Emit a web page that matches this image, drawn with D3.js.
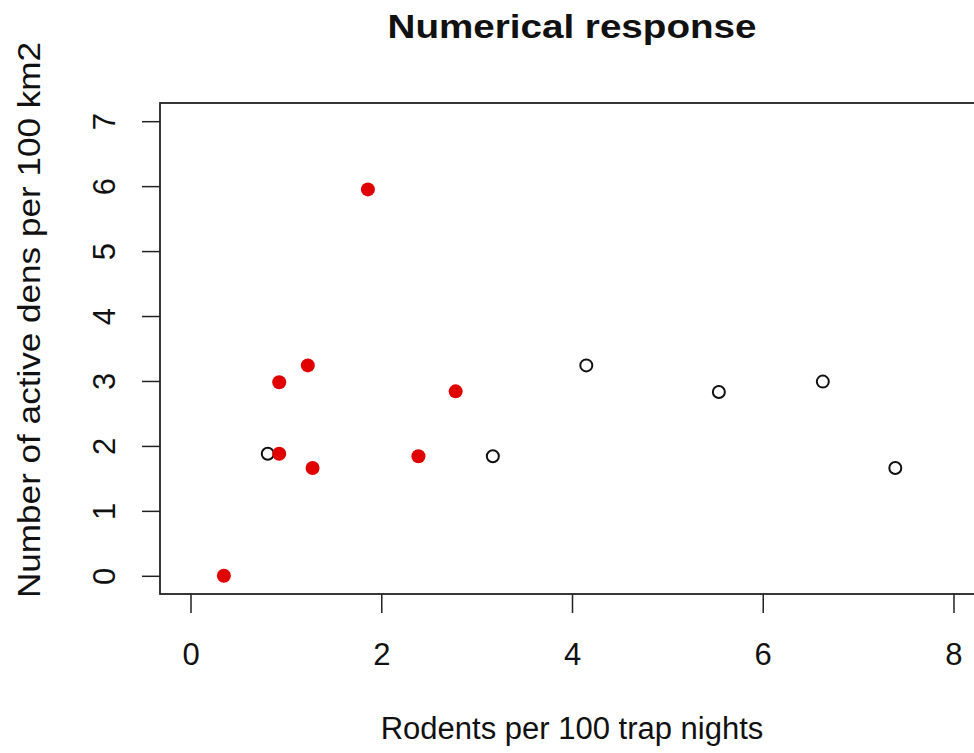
<!DOCTYPE html>
<html>
<head>
<meta charset="utf-8">
<script src="https://cdn.jsdelivr.net/npm/d3@7"></script>
<style>
  body { margin: 0; background: #fff; }
  text { font-family: "Liberation Sans", Arial, sans-serif; fill: #111; }
</style>
</head>
<body>
<div id="vis"></div>
<script>
// data
const RED_X = [0.35, 0.93, 0.93, 1.23, 1.28, 1.86, 2.39, 2.78];
const RED_Y = [0.00, 1.88, 2.98, 3.24, 1.66, 5.95, 1.84, 2.84];
const OPEN_X = [0.81, 3.17, 4.15, 5.54, 6.63, 7.39];
const OPEN_Y = [1.88, 1.84, 3.24, 2.83, 2.99, 1.66];
const X_TICKS = [0, 2, 4, 6, 8];
const Y_TICKS = [0, 1, 2, 3, 4, 5, 6, 7];

// set constants
const FRAME_WIDTH = 974;
const FRAME_HEIGHT = 753;
const PLOT = {left: 160, right: 984, top: 103, bottom: 594};

const FRAME = d3.select("#vis")
        .append("svg")
          .attr("width", FRAME_WIDTH)
          .attr("height", FRAME_HEIGHT);

// R style scales, 4% padding around 0-8 and 0-7
const X_SCALE = d3.scaleLinear()
        .domain([-0.32, 8.32])
        .range([PLOT.left, PLOT.right]);

const Y_SCALE = d3.scaleLinear()
        .domain([-0.28, 7.28])
        .range([PLOT.bottom, PLOT.top]);

// x axis
const xAxis = FRAME.append("g")
    .attr("transform", "translate(0," + PLOT.bottom + ")")
    .call(d3.axisBottom(X_SCALE).tickValues(X_TICKS).tickSize(19).tickPadding(30)
          .tickFormat(d3.format("d")));
xAxis.select(".domain").remove();
xAxis.selectAll("line").attr("stroke", "#222").attr("stroke-width", 1.5);
xAxis.selectAll("text")
    .style("font-size", "31px")
    .attr("fill", "#111");

// y axis, labels turned like R
const yAxis = FRAME.append("g")
    .attr("transform", "translate(" + PLOT.left + ",0)")
    .call(d3.axisLeft(Y_SCALE).tickValues(Y_TICKS).tickSize(18)
          .tickFormat(d3.format("d")));
yAxis.select(".domain").remove();
yAxis.selectAll("line").attr("stroke", "#222").attr("stroke-width", 1.5);
yAxis.selectAll("text")
    .attr("x", null)
    .attr("dy", null)
    .attr("transform", "translate(-45,0) rotate(-90)")
    .attr("text-anchor", "middle")
    .style("font-size", "31px")
    .attr("fill", "#111");

// box
FRAME.append("rect")
    .attr("x", PLOT.left)
    .attr("y", PLOT.top)
    .attr("width", PLOT.right - PLOT.left)
    .attr("height", PLOT.bottom - PLOT.top)
    .attr("fill", "none")
    .attr("stroke", "#222")
    .attr("stroke-width", 1.8);

// open points
FRAME.append("g")
    .selectAll("circle")
    .data(d3.range(OPEN_X.length))
    .enter()
    .append("circle")
      .attr("cx", (i) => X_SCALE(OPEN_X[i]))
      .attr("cy", (i) => Y_SCALE(OPEN_Y[i]))
      .attr("r", 6)
      .attr("fill", "none")
      .attr("stroke", "#111")
      .attr("stroke-width", 2);

// red points
FRAME.append("g")
    .selectAll("circle")
    .data(d3.range(RED_X.length))
    .enter()
    .append("circle")
      .attr("cx", (i) => X_SCALE(RED_X[i]))
      .attr("cy", (i) => Y_SCALE(RED_Y[i]))
      .attr("r", 7)
      .attr("fill", "#e00000");

// Title
FRAME.append("text")
    .attr("x", (PLOT.left + PLOT.right) / 2)
    .attr("y", 38)
    .attr("text-anchor", "middle")
    .style("font-size", "33px")
    .style("font-weight", "bold")
    .attr("textLength", 369)
    .attr("lengthAdjust", "spacingAndGlyphs")
    .text("Numerical response");

// X label
FRAME.append("text")
    .attr("x", (PLOT.left + PLOT.right) / 2)
    .attr("y", 739)
    .attr("text-anchor", "middle")
    .style("font-size", "31px")
    .text("Rodents per 100 trap nights");

// Y label (sits a bit above the plot centre in the picture)
FRAME.append("text")
    .attr("transform", "translate(40,320) rotate(-90)")
    .attr("text-anchor", "middle")
    .style("font-size", "32px")
    .attr("textLength", 556)
    .attr("lengthAdjust", "spacingAndGlyphs")
    .text("Number of active dens per 100 km2");
</script>
</body>
</html>
